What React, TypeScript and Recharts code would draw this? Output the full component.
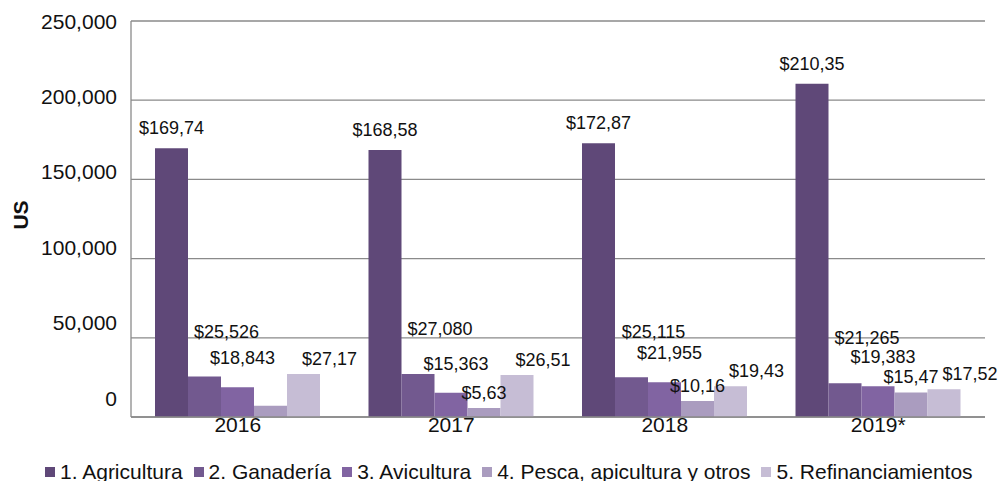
import React from 'react';
import { BarChart, Bar, XAxis, YAxis, CartesianGrid, LabelList } from 'recharts';

const years = ['2016', '2017', '2018', '2019*'];

const agricultura = [169740, 168580, 172870, 210350];
const ganaderia = [25526, 27080, 25115, 21265];
const avicultura = [18843, 15363, 21955, 19383];
const pesca = [7100, 5630, 10160, 15470];
const refinanciamientos = [27170, 26510, 19430, 17520];

// labels as printed in the source (truncated)
const agriculturaLabels = ['$169,74', '$168,58', '$172,87', '$210,35'];
const ganaderiaLabels = ['$25,526', '$27,080', '$25,115', '$21,265'];
const aviculturaLabels = ['$18,843', '$15,363', '$21,955', '$19,383'];
const pescaLabels = ['', '$5,63', '$10,16', '$15,47'];
const refinanciamientosLabels = ['$27,17', '$26,51', '$19,43', '$17,52'];

const yTicks = [0, 50000, 100000, 150000, 200000, 250000];

const FONT = '"Liberation Sans", Arial, sans-serif';

const series = [
  { key: 'agri', name: '1. Agricultura', color: '#5f4878', values: agricultura, labels: agriculturaLabels, dx: 0, dy: -20 },
  { key: 'gana', name: '2. Ganadería', color: '#72598f', values: ganaderia, labels: ganaderiaLabels, dx: 22, dy: -45 },
  { key: 'avic', name: '3. Avicultura', color: '#8164a2', values: avicultura, labels: aviculturaLabels, dx: 5, dy: -29 },
  { key: 'pesc', name: '4. Pesca, apicultura y otros', color: '#aa9cbf', values: pesca, labels: pescaLabels, dx: 0, dy: -15 },
  { key: 'refi', name: '5. Refinanciamientos', color: '#c6bdd5', values: refinanciamientos, labels: refinanciamientosLabels, dx: 26, dy: -15 },
];

const data = years.map((year, i) => {
  const row: any = { year };
  series.forEach(s => {
    row[s.key] = s.values[i];
    row[s.key + 'Label'] = s.labels[i];
  });
  return row;
});

const makeLabel = (dx: number, dy: number) => (props: any) => {
  const { x, y, width, value } = props;
  if (!value) return null;
  return (
    <text x={x + width / 2 + dx} y={y + dy} textAnchor="middle" dominantBaseline="central"
      fontFamily={FONT} fontSize={18} fill="#111">
      {value}
    </text>
  );
};

const YTick = (props: any) => {
  const { x, y, payload } = props;
  const shift = -(1 - payload.value / 250000) * 19;
  return (
    <text x={x} y={y + shift} textAnchor="end" dominantBaseline="central" fontFamily={FONT} fontSize={21} fill="#111">
      {payload.value.toLocaleString('en-US')}
    </text>
  );
};

const XTick = (props: any) => {
  const { x, y, payload } = props;
  return (
    <text x={x} y={y + 15} textAnchor="middle" fontFamily={FONT} fontSize={21} fill="#111">
      {payload.value}
    </text>
  );
};

const YTitle = (props: any) => {
  const { viewBox } = props;
  const cx = viewBox.x + 20;
  const cy = viewBox.y + viewBox.height / 2 - 4;
  return (
    <text x={cx} y={cy} transform={`rotate(-90 ${cx} ${cy})`} textAnchor="middle" dominantBaseline="central"
      fontFamily={FONT} fontSize={21} fontWeight="bold" fill="#111">
      US
    </text>
  );
};

export default function App() {
  return (
    <div style={{ position: 'relative', width: 1003, height: 481, background: '#fff' }}>
      <style>{'body{margin:0}'}</style>
      <BarChart width={1003} height={481} data={data}
        margin={{ top: 21, right: 18, left: 0, bottom: 34 }}
        barCategoryGap={24} barGap={0}>
        <CartesianGrid vertical={false} stroke="#8a8a8a" strokeWidth={1.3} />
        <XAxis dataKey="year" tick={<XTick />} tickLine={false} tickSize={0} tickMargin={0}
          height={30} axisLine={{ stroke: '#8a8a8a', strokeWidth: 1.3 }} />
        <YAxis width={131} domain={[0, 250000]} ticks={yTicks} tick={<YTick />} tickLine={false}
          tickSize={0} tickMargin={14} axisLine={{ stroke: '#8a8a8a', strokeWidth: 1.3 }}
          label={<YTitle />} />
        {series.map(s => (
          <Bar key={s.key} dataKey={s.key} name={s.name} fill={s.color} isAnimationActive={false}>
            <LabelList dataKey={s.key + 'Label'} content={makeLabel(s.dx, s.dy)} />
          </Bar>
        ))}
      </BarChart>
      <div style={{ position: 'absolute', left: 45, top: 461, display: 'flex', alignItems: 'center',
        fontFamily: FONT, fontSize: 21, lineHeight: '21px', color: '#111', whiteSpace: 'nowrap' }}>
        {series.map(s => (
          <div key={s.key} style={{ display: 'flex', alignItems: 'center', marginRight: 11 }}>
            <span style={{ display: 'inline-block', width: 10, height: 10, background: s.color, marginRight: 5 }} />
            <span>{s.name}</span>
          </div>
        ))}
      </div>
    </div>
  );
}
